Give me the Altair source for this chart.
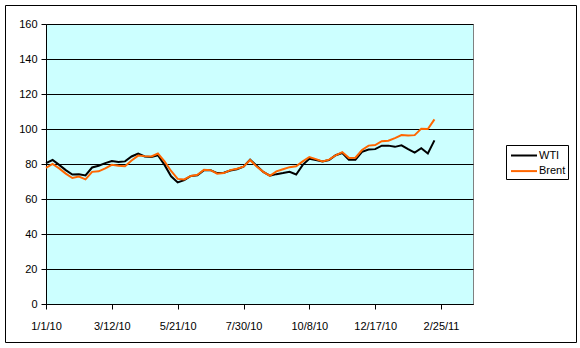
import altair as alt
import pandas as pd

# ---- data (weekly, starting 1/1/10) ----
start_date = "2010-01-01"
wti = [80.5, 82.3, 79.5, 76.5, 74.0, 74.2, 73.5, 78.0, 79.0, 80.5,
       81.7, 81.2, 81.5, 84.3, 86.0, 84.3, 84.0, 85.0, 79.5, 73.0,
       69.5, 70.8, 73.2, 73.5, 76.5, 76.5, 74.8, 75.0, 76.3, 77.0,
       78.5, 82.5, 79.0, 75.5, 73.3, 74.2, 74.8, 75.5, 74.0, 79.5,
       83.0, 82.3, 81.5, 82.3, 85.0, 86.3, 82.5, 82.5, 87.0, 88.3,
       88.5, 90.5, 90.5, 89.8, 90.7, 88.5, 86.5, 89.0, 86.0, 93.5]
brent = [77.8, 80.0, 77.5, 74.5, 72.0, 72.8, 71.2, 75.5, 75.8, 77.5,
         79.5, 79.0, 78.7, 82.0, 84.8, 84.5, 84.3, 86.0, 81.5, 76.0,
         71.5, 71.2, 73.2, 73.8, 76.7, 76.5, 74.5, 74.8, 76.5, 77.3,
         78.5, 82.3, 78.5, 75.5, 73.3, 75.8, 77.0, 78.2, 78.7, 81.5,
         84.0, 82.8, 81.5, 82.5, 85.0, 86.8, 83.5, 83.6, 88.0, 90.5,
         90.8, 93.0, 93.3, 94.8, 96.5, 96.3, 96.5, 100.2, 100.0, 105.5]
series_names = ["WTI", "Brent"]
series_colors = ["#000000", "#FF6600"]
tick_dates = ["2010-01-01", "2010-03-12", "2010-05-21", "2010-07-30",
              "2010-10-08", "2010-12-17", "2011-02-25"]
x_end = "2011-03-31"
y_ticks = [0, 20, 40, 60, 80, 100, 120, 140, 160]

dates = list(pd.date_range(start_date, periods=len(wti), freq="7D").strftime("%Y-%m-%d"))
df = pd.DataFrame({
    "date": dates + dates,
    "price": wti + brent,
    "series": [series_names[0]] * len(wti) + [series_names[1]] * len(brent),
})


def ms(d):
    return int(pd.Timestamp(d, tz="UTC").value // 10**6)


tick_ms = [ms(d) for d in tick_dates]
x_domain = [ms(start_date), ms(x_end)]

FONT = "Liberation Sans"

lines = alt.Chart(df).mark_line(strokeWidth=2).encode(
    x=alt.X("date:T",
            scale=alt.Scale(type="utc", domain=x_domain),
            axis=alt.Axis(values=tick_ms,
                          labelExpr="utcFormat(datum.value, '%-m/%-d/%y')",
                          title=None, grid=False, domainColor="black",
                          tickColor="black", tickSize=5, labelPadding=11,
                          labelFont=FONT, labelFontSize=11, labelColor="black",
                          labelFlush=False, labelOverlap=False)),
    y=alt.Y("price:Q",
            scale=alt.Scale(domain=[0, 160], nice=False),
            axis=alt.Axis(values=y_ticks, title=None, grid=True, gridColor="black",
                          gridOpacity=1, gridWidth=1, domainColor="black",
                          tickColor="black", tickSize=5, labelPadding=4,
                          labelFont=FONT, labelFontSize=11, labelColor="black")),
    color=alt.Color("series:N",
                    scale=alt.Scale(domain=series_names, range=series_colors),
                    legend=alt.Legend(title=None, orient="none", legendX=460, legendY=121,
                                      strokeColor="black", fillColor="white", padding=2,
                                      symbolType="M-0.733,0H2.733", symbolSize=225,
                                      symbolStrokeWidth=2, labelFont=FONT,
                                      labelFontSize=11, labelColor="black",
                                      labelOffset=14, rowPadding=1.6)),
)

frame = alt.Chart(alt.Data(values=[{"k": 1}])).mark_rect(
    filled=False, stroke="black", strokeWidth=1
).encode(
    x=alt.value(-40.5), x2=alt.value(530.5), y=alt.value(-18.5), y2=alt.value(318.5)
)

chart = alt.layer(lines, frame).properties(
    width=427, height=280, autosize="none",
    padding={"left": 46, "top": 24, "right": 107, "bottom": 44},
    background="white",
).configure_view(fill="#CCFFFF", stroke="#808080", strokeWidth=1)

chart.save("out.html", embed_options={"renderer": "svg", "actions": False})
